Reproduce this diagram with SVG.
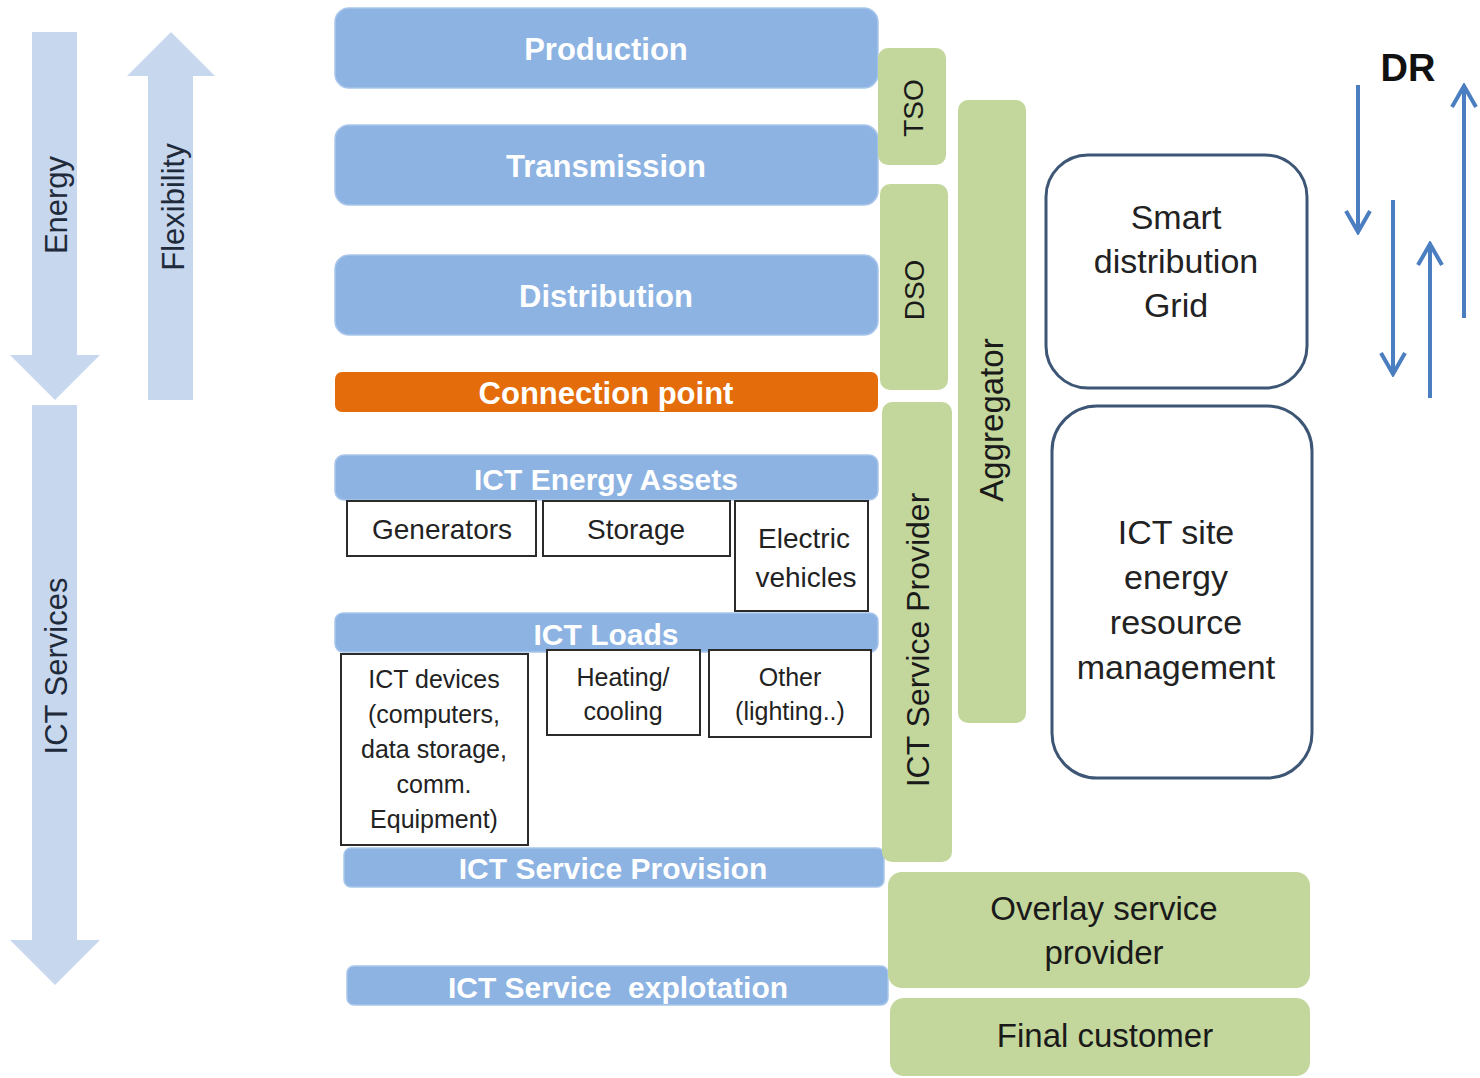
<svg xmlns="http://www.w3.org/2000/svg" width="1480" height="1078" viewBox="0 0 1480 1078">
<style>
.bar{fill:#8DB3E2;stroke:#A9C6EA;stroke-width:1.5}
.barT{font-family:"Liberation Sans",Arial,sans-serif;font-weight:bold;fill:#ffffff;text-anchor:middle;dominant-baseline:central}
.big{fill:#C6D7EE}
.bigT{font-family:"Liberation Sans",Arial,sans-serif;font-size:31px;fill:#1F2A3A;text-anchor:middle;dominant-baseline:central}
.grn{fill:#C3D69B}
.grnT{font-family:"Liberation Sans",Arial,sans-serif;fill:#1a1a1a;text-anchor:middle;dominant-baseline:central}
.box{fill:#ffffff;stroke:#2b2b2b;stroke-width:2}
.boxT{font-family:"Liberation Sans",Arial,sans-serif;fill:#222222;text-anchor:middle;dominant-baseline:central}
.rbox{fill:#ffffff;stroke:#3E5675;stroke-width:3}
.dr{stroke:#4A7EC0;stroke-width:4;fill:none}
</style>
<defs>
<marker id="chev" viewBox="0 0 26 28" refX="23" refY="14" markerWidth="26" markerHeight="28" markerUnits="userSpaceOnUse" orient="auto">
<path d="M2,2 L23,14 L2,26" fill="none" stroke="#4A7EC0" stroke-width="4"/>
</marker>
</defs>
<rect width="1480" height="1078" fill="#ffffff"/>

<g id="energy-arrow">
<polygon class="big" points="32,32 77,32 77,355 100,355 55,400 10,355 32,355"/>
<text class="bigT" transform="translate(56,205) rotate(-90)">Energy</text>
</g>
<g id="flexibility-arrow">
<polygon class="big" points="171,32 215,76 193,76 193,400 148,400 148,76 127,76"/>
<text class="bigT" transform="translate(173,207) rotate(-90)">Flexibility</text>
</g>
<g id="ict-services-arrow">
<polygon class="big" points="32,405 77,405 77,940 100,940 55,985 10,940 32,940"/>
<text class="bigT" transform="translate(56,666) rotate(-90)" font-size="30">ICT Services</text>
</g>

<g id="production">
<rect class="bar" x="335" y="8" width="543" height="80" rx="14"/>
<text class="barT" x="606" y="49" font-size="31">Production</text>
</g>
<g id="transmission">
<rect class="bar" x="335" y="125" width="543" height="80" rx="14"/>
<text class="barT" x="606" y="166" font-size="31">Transmission</text>
</g>
<g id="distribution">
<rect class="bar" x="335" y="255" width="543" height="80" rx="14"/>
<text class="barT" x="606" y="296" font-size="31">Distribution</text>
</g>
<g id="connection-point">
<rect x="335" y="372" width="543" height="40" rx="7" fill="#E46C0A"/>
<text class="barT" x="606" y="393" font-size="31">Connection point</text>
</g>

<g id="ict-energy-assets">
<rect class="bar" x="335" y="455" width="543" height="45" rx="9"/>
<text class="barT" x="606" y="479" font-size="30">ICT Energy Assets</text>
</g>
<g id="generators">
<rect class="box" x="347" y="501" width="189" height="55"/>
<text class="boxT" x="442" y="529" font-size="28">Generators</text>
</g>
<g id="storage">
<rect class="box" x="543" y="501" width="187" height="55"/>
<text class="boxT" x="636" y="529" font-size="28">Storage</text>
</g>
<g id="electric-vehicles">
<rect class="box" x="735" y="501" width="133" height="110"/>
<text class="boxT" x="804" y="538" font-size="28">Electric</text>
<text class="boxT" x="806" y="577" font-size="28">vehicles</text>
</g>

<g id="ict-loads">
<rect class="bar" x="335" y="613" width="543" height="39" rx="8"/>
<text class="barT" x="606" y="634" font-size="30">ICT Loads</text>
</g>
<g id="ict-devices">
<rect class="box" x="341" y="654" width="187" height="191"/>
<text class="boxT" x="434" y="679" font-size="25">ICT devices</text>
<text class="boxT" x="434" y="714" font-size="25">(computers,</text>
<text class="boxT" x="434" y="749" font-size="25">data storage,</text>
<text class="boxT" x="434" y="784" font-size="25">comm.</text>
<text class="boxT" x="434" y="819" font-size="25">Equipment)</text>
</g>
<g id="heating-cooling">
<rect class="box" x="547" y="650" width="153" height="85"/>
<text class="boxT" x="623" y="677" font-size="25">Heating/</text>
<text class="boxT" x="623" y="711" font-size="25">cooling</text>
</g>
<g id="other">
<rect class="box" x="709" y="650" width="162" height="87"/>
<text class="boxT" x="790" y="677" font-size="25">Other</text>
<text class="boxT" x="790" y="711" font-size="25">(lighting..)</text>
</g>

<g id="ict-service-provision">
<rect class="bar" x="344" y="848" width="540" height="39" rx="7"/>
<text class="barT" x="613" y="868" font-size="30">ICT Service Provision</text>
</g>
<g id="ict-service-explotation">
<rect class="bar" x="347" y="966" width="541" height="39" rx="7"/>
<text class="barT" x="618" y="987" font-size="30" xml:space="preserve">ICT Service  explotation</text>
</g>

<g id="tso">
<rect class="grn" x="878" y="48" width="68" height="117" rx="10"/>
<text class="grnT" transform="translate(913,108) rotate(-90)" font-size="28">TSO</text>
</g>
<g id="dso">
<rect class="grn" x="880" y="184" width="68" height="206" rx="10"/>
<text class="grnT" transform="translate(914,290) rotate(-90)" font-size="28">DSO</text>
</g>
<g id="ict-service-provider">
<rect class="grn" x="882" y="402" width="70" height="460" rx="10"/>
<text class="grnT" transform="translate(918,640) rotate(-90)" font-size="32">ICT Service Provider</text>
</g>
<g id="aggregator">
<rect class="grn" x="958" y="100" width="68" height="623" rx="10"/>
<text class="grnT" transform="translate(991,420) rotate(-90)" font-size="33">Aggregator</text>
</g>
<g id="overlay-service-provider">
<rect class="grn" x="888" y="872" width="422" height="116" rx="14"/>
<text class="grnT" x="1104" y="908" font-size="33">Overlay service</text>
<text class="grnT" x="1104" y="952" font-size="33">provider</text>
</g>
<g id="final-customer">
<rect class="grn" x="890" y="998" width="420" height="78" rx="14"/>
<text class="grnT" x="1105" y="1035" font-size="33">Final customer</text>
</g>

<g id="smart-distribution-grid">
<rect class="rbox" x="1046" y="155" width="261" height="233" rx="42"/>
<text class="boxT" x="1176" y="217" font-size="34">Smart</text>
<text class="boxT" x="1176" y="261" font-size="34">distribution</text>
<text class="boxT" x="1176" y="305" font-size="34">Grid</text>
</g>
<g id="ict-site-energy-resource-management">
<rect class="rbox" x="1052" y="406" width="260" height="372" rx="45"/>
<text class="boxT" x="1176" y="532" font-size="34">ICT site</text>
<text class="boxT" x="1176" y="577" font-size="34">energy</text>
<text class="boxT" x="1176" y="622" font-size="34">resource</text>
<text class="boxT" x="1176" y="667" font-size="34">management</text>
</g>

<g id="dr-label">
<text x="1408" y="81" font-family="'Liberation Sans',Arial,sans-serif" font-weight="bold" font-size="38" fill="#111111" text-anchor="middle">DR</text>
</g>

<g id="connectors">
<line class="dr" x1="1358" y1="85" x2="1358" y2="232" marker-end="url(#chev)"/>
<line class="dr" x1="1393" y1="200" x2="1393" y2="374" marker-end="url(#chev)"/>
<line class="dr" x1="1430" y1="398" x2="1430" y2="244" marker-end="url(#chev)"/>
<line class="dr" x1="1464" y1="318" x2="1464" y2="86" marker-end="url(#chev)"/>
</g>
</svg>
